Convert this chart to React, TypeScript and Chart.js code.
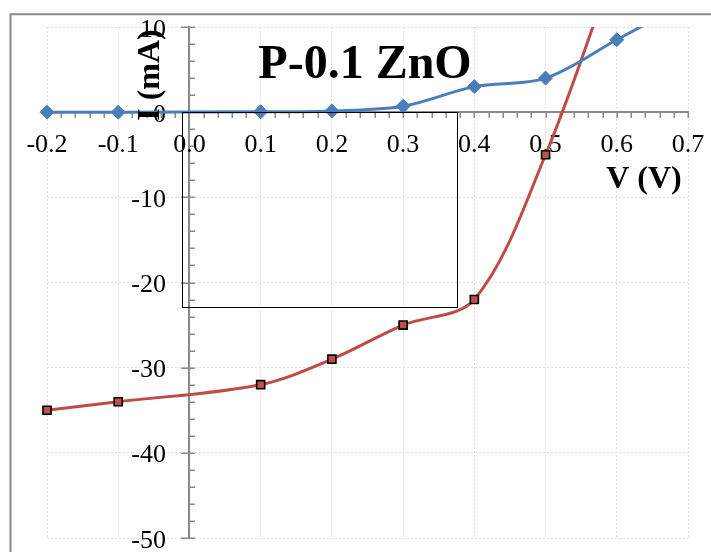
import { useEffect, useRef } from "react";
import { Chart, registerables } from "chart.js";

Chart.register(...registerables);

// ---- Data ----
const blueVoltage = [-0.2, -0.1, 0.1, 0.2, 0.3, 0.4, 0.5, 0.6, 0.7];
const blueCurrent = [0, 0, 0.05, 0.15, 0.7, 3.0, 4.0, 8.5, 13];
const redVoltage = [-0.2, -0.1, 0.1, 0.2, 0.3, 0.4, 0.5, 0.6];
const redCurrent = [-35, -34, -32, -29, -25, -22, -5, 18];

const xTickValues = [-0.2, -0.1, 0, 0.1, 0.2, 0.3, 0.4, 0.5, 0.6, 0.7];
const xTickLabels = ["-0.2", "-0.1", "0.0", "0.1", "0.2", "0.3", "0.4", "0.5", "0.6", "0.7"];
const yTickValues = [-50, -40, -30, -20, -10, 0, 10];
const yTickLabels = ["-50", "-40", "-30", "-20", "-10", "0", "10"];

const chartTitle = "P-0.1 ZnO";
const xAxisTitle = "V (V)";
const yAxisTitle = "I (mA)";

// leftover frame shape in the original picture (data units)
const boxXRange = [-0.011, 0.375];
const boxYRange = [0, -22.9];

const SERIF = "'Liberation Serif', 'Times New Roman', Times, serif";
const AXIS_GRAY = "#898989";

const decorPlugin = {
  id: "decor",
  beforeDraw(chart: any) {
    const ctx = chart.ctx;
    ctx.save();
    ctx.strokeStyle = AXIS_GRAY;
    ctx.lineWidth = 2;
    ctx.beginPath();
    ctx.moveTo(10.5, chart.height);
    ctx.lineTo(10.5, 14.3);
    ctx.lineTo(chart.width, 14.3);
    ctx.stroke();
    ctx.restore();
  },
  beforeDatasetsDraw(chart: any) {
    const ctx = chart.ctx;
    const xs = chart.scales.x;
    const ys = chart.scales.y;
    const ax = Math.round(xs.getPixelForValue(0));
    const ay = Math.round(ys.getPixelForValue(0));
    ctx.save();
    ctx.strokeStyle = AXIS_GRAY;
    ctx.lineWidth = 1.5;
    ctx.beginPath();
    // y minor / major ticks
    for (let i = 0; i <= 30; i++) {
      const v = -50 + i * 2;
      const py = Math.round(ys.getPixelForValue(v)) + 0.25;
      const major = i % 5 === 0;
      ctx.moveTo(major ? ax - 8 : ax, py);
      ctx.lineTo(ax + 6, py);
    }
    // x minor ticks
    for (let i = 0; i <= 45; i++) {
      const v = -0.2 + i * 0.02;
      const px = Math.round(xs.getPixelForValue(v)) + 0.25;
      ctx.moveTo(px, ay);
      ctx.lineTo(px, ay + 6);
    }
    ctx.stroke();

    // tick labels
    ctx.fillStyle = "#000";
    ctx.font = `26px ${SERIF}`;
    ctx.textBaseline = "alphabetic";
    ctx.textAlign = "center";
    xTickValues.forEach((v, i) => {
      ctx.fillText(xTickLabels[i], xs.getPixelForValue(v), ay + 40);
    });
    ctx.textAlign = "right";
    yTickValues.forEach((v, i) => {
      ctx.fillText(yTickLabels[i], ax - 23, ys.getPixelForValue(v) + 9.5);
    });
    ctx.restore();
  },
  afterDraw(chart: any) {
    const ctx = chart.ctx;
    const xs = chart.scales.x;
    const ys = chart.scales.y;
    ctx.save();
    // leftover rectangle
    const x1 = Math.round(xs.getPixelForValue(boxXRange[0])) + 0.5;
    const x2 = Math.round(xs.getPixelForValue(boxXRange[1])) + 0.5;
    const y1 = Math.round(ys.getPixelForValue(boxYRange[0])) + 0.5;
    const y2 = Math.round(ys.getPixelForValue(boxYRange[1])) + 0.5;
    ctx.strokeStyle = "#000";
    ctx.lineWidth = 1;
    ctx.strokeRect(x1, y1, x2 - x1, y2 - y1);

    ctx.fillStyle = "#000";
    // title
    ctx.font = `bold 48px ${SERIF}`;
    ctx.textAlign = "center";
    ctx.textBaseline = "alphabetic";
    ctx.fillText(chartTitle, 365, 78);
    // x axis title
    ctx.font = `bold 32px ${SERIF}`;
    ctx.fillText(xAxisTitle, 644, 188);
    // y axis title
    ctx.translate(159, 75);
    ctx.rotate(-Math.PI / 2);
    ctx.fillText(yAxisTitle, 0, 0);
    ctx.restore();
  },
};

export default function App() {
  const ref = useRef<HTMLCanvasElement>(null);
  useEffect(() => {
    const canvas = ref.current!;
    const chart = new Chart(canvas, {
      type: "line",
      data: {
        datasets: [
          {
            label: "forward",
            data: blueVoltage.map((v, i) => ({ x: v, y: blueCurrent[i] })),
            borderColor: "#4a7ebb",
            backgroundColor: "#4a7ebb",
            borderWidth: 3,
            pointStyle: "rectRot",
            pointRadius: 7,
            pointBorderWidth: 1,
            pointBorderColor: "#4a7ebb",
            pointBackgroundColor: "#4a7ebb",
            tension: 0.33,
            clip: { left: 12, right: 12, top: 0, bottom: 12 } as any,
          },
          {
            label: "illuminated",
            data: redVoltage.map((v, i) => ({ x: v, y: redCurrent[i] })),
            borderColor: "#be4b48",
            backgroundColor: "#c0504d",
            borderWidth: 3,
            pointStyle: "rect",
            pointRadius: 5.7,
            pointBorderWidth: 1.6,
            pointBorderColor: "#000",
            pointBackgroundColor: "#c0504d",
            tension: 0.33,
            clip: { left: 12, right: 12, top: 0, bottom: 12 } as any,
          },
        ],
      },
      options: {
        responsive: false,
        animation: false,
        devicePixelRatio: 1,
        layout: { padding: { left: 47, right: 23, top: 27, bottom: 14 } },
        elements: { line: { capBezierPoints: false } },
        plugins: {
          legend: { display: false },
          tooltip: { enabled: false },
          title: { display: false },
        },
        scales: {
          x: {
            type: "linear",
            position: { y: 0 } as any,
            min: -0.2,
            max: 0.7,
            grid: { color: "#dedede", lineWidth: 1, drawTicks: false },
            border: { display: true, color: AXIS_GRAY, width: 2, dash: [2, 2] },
            ticks: { stepSize: 0.1, display: false },
          },
          y: {
            type: "linear",
            position: { x: 0 } as any,
            min: -50,
            max: 10,
            grid: { color: "#dedede", lineWidth: 1, drawTicks: false },
            border: { display: true, color: AXIS_GRAY, width: 2, dash: [2, 2] },
            ticks: { stepSize: 10, display: false },
          },
        },
      },
      plugins: [decorPlugin],
    } as any);
    return () => chart.destroy();
  }, []);
  return (
    <div style={{ position: "absolute", left: 0, top: 0, width: 711, height: 552, background: "#fff" }}>
      <canvas ref={ref} width={711} height={552} style={{ display: "block", width: 711, height: 552 }} />
    </div>
  );
}
